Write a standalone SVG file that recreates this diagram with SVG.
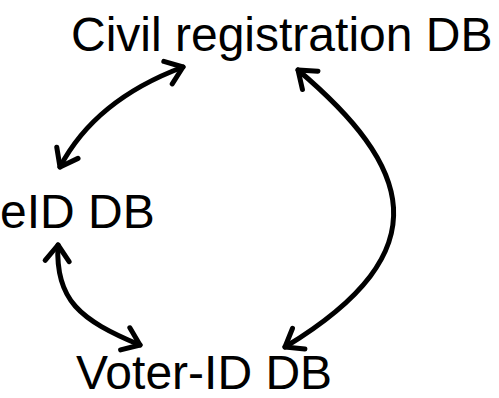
<svg xmlns="http://www.w3.org/2000/svg" width="499" height="398" viewBox="0 0 499 398">
  <style>
    .label { font-family: "Liberation Sans", Arial, sans-serif; font-size: 48px; fill: #000; }
    .link { fill: none; stroke: #000; stroke-width: 5; stroke-linecap: round; marker-start: url(#chevron); marker-end: url(#chevron); }
  </style>
  <defs>
    <!-- open V arrowhead used on both ends of every link -->
    <marker id="chevron" markerUnits="userSpaceOnUse" viewBox="-20 -16 24 32" refX="0" refY="0" markerWidth="24" markerHeight="32" orient="auto-start-reverse" overflow="visible">
      <path d="M-16,-12 L0,0 L-16,12" fill="none" stroke="#000" stroke-width="5" stroke-linecap="round" stroke-linejoin="round"/>
    </marker>
  </defs>
  <rect width="499" height="398" fill="#fff"/>
  <g id="connectors">
    <path class="link" d="M183,67 Q95,100 60,167"/>
    <path class="link" d="M58,245 C55,300 80,320 140,345"/>
    <path class="link" d="M298,70 C410,165 445,250 285,347"/>
  </g>
  <g id="civil-registration-db">
    <text class="label" x="71" y="51">Civil registration DB</text>
  </g>
  <g id="eid-db">
    <text class="label" x="0" y="228">eID DB</text>
  </g>
  <g id="voter-id-db">
    <text class="label" x="76" y="389">Voter-ID DB</text>
  </g>
</svg>
